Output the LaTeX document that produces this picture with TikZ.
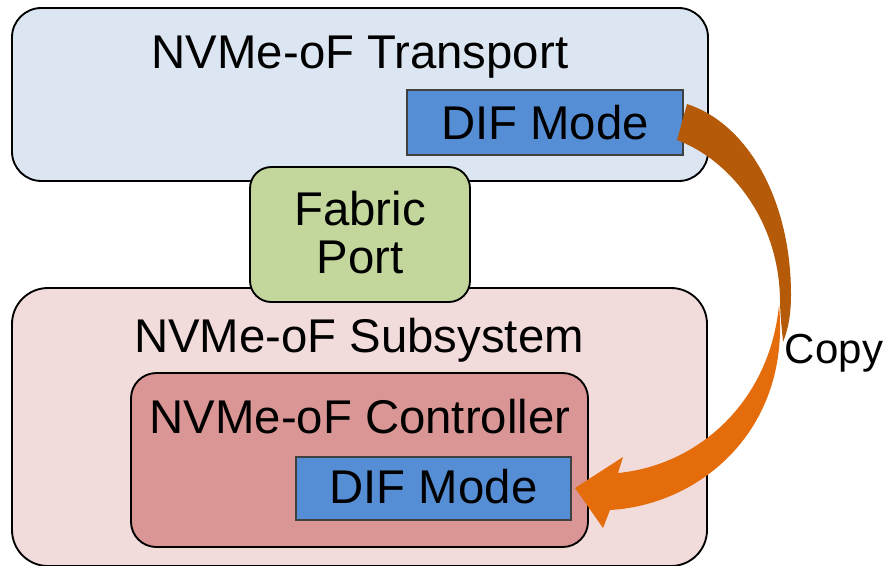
\documentclass[tikz,border=0pt]{standalone}
\usepackage{fontspec}
\setmainfont{Liberation Sans}
\usetikzlibrary{fit}

\definecolor{transportfill}{HTML}{DCE6F2}
\definecolor{portfill}{HTML}{C3D69B}
\definecolor{subsysfill}{HTML}{F2DCDB}
\definecolor{ctrlfill}{HTML}{D99694}
\definecolor{diffill}{HTML}{558ED5}
\definecolor{difline}{HTML}{404040}
\definecolor{arrowdark}{HTML}{B55A08}
\definecolor{arrowlight}{HTML}{E46C0A}

\tikzset{
  panel/.style={draw=black, line width=1.4pt, inner sep=0pt},
  difbox/.style={draw=difline, fill=diffill, line width=1.4pt, inner sep=0pt},
  lbl/.style={anchor=base, inner sep=0pt, font=\fontsize{35.5}{42}\selectfont},
  smalllbl/.style={anchor=base, inner sep=0pt, font=\fontsize{31.5}{38}\selectfont},
}

\begin{document}
\begin{tikzpicture}[x=0.75pt, y=-0.75pt]
\useasboundingbox (0,0) rectangle (888,565);

% NVMe-oF transport
\node[panel, fill=transportfill, rounded corners=22pt, fit={(12,8) (708,181)}] (transport) {};
\node[lbl] (transportlbl) at (360,68) {NVMe-oF Transport};
\node[difbox, fit={(407,90) (683,155)}] (difA) {};
\node[lbl] (difAlbl) at (545,139) {DIF Mode};

% NVMe-oF subsystem with its controller
\node[panel, fill=subsysfill, rounded corners=27pt, fit={(12,288) (707,566)}] (subsys) {};
\node[lbl] (subsyslbl) at (359,352) {NVMe-oF Subsystem};
\node[panel, fill=ctrlfill, rounded corners=19pt, fit={(131,373) (588,547)}] (ctrl) {};
\node[lbl] (ctrllbl) at (360,433) {NVMe-oF Controller};
\node[difbox, fit={(296,457) (571,520)}] (difB) {};
\node[lbl] (difBlbl) at (433.5,503) {DIF Mode};

% Fabric port between the two
\node[panel, fill=portfill, rounded corners=16pt, fit={(250,167) (470,302)}] (port) {};
\node[lbl] (portlbl1) at (360,225) {Fabric};
\node[lbl] (portlbl2) at (360,273) {Port};

% Curved copy arrow: back part (darker) and front part with head
\fill[arrowdark] (687,104) .. controls (748,124) and (791,200) .. (791,295)
  .. controls (791,318) and (787,332) .. (783,342)
  .. controls (782,330) and (780,315) .. (780,300)
  .. controls (779,220) and (730,160) .. (677,140) -- cycle;
\fill[arrowlight] (779,305) .. controls (791,430) and (700,505) .. (610,510)
  -- (603,528) -- (575,488) -- (623,457) -- (618,473)
  .. controls (700,465) and (770,400) .. (779,305) -- cycle;

\node[smalllbl] (copylbl) at (834,363) {Copy};
\end{tikzpicture}
\end{document}
